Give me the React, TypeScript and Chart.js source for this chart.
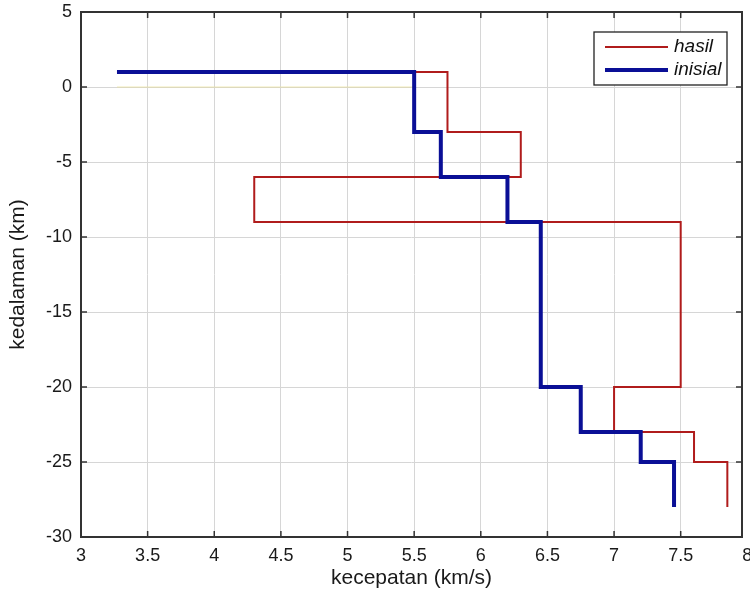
import React, { useEffect, useRef } from "react";
import { Chart, registerables } from "chart.js";

Chart.register(...registerables);

const xTicks = [3, 3.5, 4, 4.5, 5, 5.5, 6, 6.5, 7, 7.5, 8];
const yTicks = [5, 0, -5, -10, -15, -20, -25, -30];

const hasilVel = [3.27, 5.75, 5.75, 6.3, 6.3, 4.3, 4.3, 7.5, 7.5, 7.0, 7.0, 7.6, 7.6, 7.85, 7.85];
const hasilDepth = [1, 1, -3, -3, -6, -6, -9, -9, -20, -20, -23, -23, -25, -25, -28];

const inisialVel = [3.27, 5.5, 5.5, 5.7, 5.7, 6.2, 6.2, 6.45, 6.45, 6.75, 6.75, 7.2, 7.2, 7.45, 7.45];
const inisialDepth = [1, 1, -3, -3, -6, -6, -9, -9, -20, -20, -23, -23, -25, -25, -28];

const faintVel = [3.27, 5.5];
const faintDepth = [0, 0];

const X_MIN = 3;
const X_MAX = 7.96;
const Y_MIN = -30;
const Y_MAX = 5;

const FONT = "'Liberation Sans', Arial, Helvetica, sans-serif";

const toPoints = (xs: number[], ys: number[]) => xs.map((v, i) => ({ x: v, y: ys[i] }));

const framePlugin = {
  id: "matlabFrame",
  afterDatasetsDraw(chart: any) {
    const { ctx, chartArea, scales } = chart;
    const { left, right, top, bottom } = chartArea;
    const xs = scales.x;
    const ys = scales.y;
    ctx.save();
    ctx.strokeStyle = "#333";
    ctx.lineWidth = 1.5;
    const seg = (a: number, b: number, c: number, d: number) => {
      ctx.beginPath();
      ctx.moveTo(a, b);
      ctx.lineTo(c, d);
      ctx.stroke();
    };
    xs.ticks.forEach((t: any) => {
      if (t.value > xs.max + 1e-9 || t.value < xs.min - 1e-9) return;
      const px = xs.getPixelForValue(t.value);
      seg(px, bottom, px, bottom - 6);
      seg(px, top, px, top + 6);
    });
    ys.ticks.forEach((t: any) => {
      const py = ys.getPixelForValue(t.value);
      seg(left, py, left + 6, py);
      seg(right, py, right - 6, py);
    });
    ctx.lineWidth = 2;
    ctx.strokeRect(left, top, right - left, bottom - top);

    // legend
    const items = chart.data.datasets.filter((d: any) => d.showInLegend);
    const bw = 133;
    const bh = 53;
    const x0 = right - 148;
    const y0 = top + 20;
    ctx.fillStyle = "#fff";
    ctx.fillRect(x0, y0, bw, bh);
    ctx.lineWidth = 1.3;
    ctx.strokeStyle = "#222";
    ctx.strokeRect(x0, y0, bw, bh);
    items.forEach((d: any, i: number) => {
      const yy = y0 + 15 + i * 23;
      ctx.strokeStyle = d.borderColor;
      ctx.lineWidth = d.borderWidth;
      seg(x0 + 11, yy, x0 + 74, yy);
      ctx.fillStyle = "#111";
      ctx.font = `italic 19px ${FONT}`;
      ctx.textBaseline = "middle";
      ctx.textAlign = "left";
      ctx.fillText(d.label, x0 + 80, yy);
    });
    ctx.restore();
  },
};

export default function App() {
  const ref = useRef<HTMLCanvasElement | null>(null);

  useEffect(() => {
    if (!ref.current) return;
    const chart = new Chart(ref.current, {
      type: "line",
      data: {
        datasets: [
          {
            label: "hasil",
            data: toPoints(hasilVel, hasilDepth),
            borderColor: "#b01c1c",
            borderWidth: 2,
            pointRadius: 0,
            fill: false,
            tension: 0,
            order: 2,
            showInLegend: true,
          } as any,
          {
            label: "inisial",
            data: toPoints(inisialVel, inisialDepth),
            borderColor: "#0a0f96",
            borderWidth: 4,
            pointRadius: 0,
            fill: false,
            tension: 0,
            order: 1,
            showInLegend: true,
          } as any,
          {
            label: "",
            data: toPoints(faintVel, faintDepth),
            borderColor: "rgba(235,225,150,0.7)",
            borderWidth: 1,
            pointRadius: 0,
            fill: false,
            order: 3,
            showInLegend: false,
          } as any,
        ],
      },
      options: {
        animation: false,
        responsive: false,
        maintainAspectRatio: false,
        layout: { padding: { top: 12, right: 8, left: 0, bottom: 0 } },
        plugins: {
          legend: { display: false },
          tooltip: { enabled: false },
        },
        scales: {
          x: {
            type: "linear",
            min: X_MIN,
            max: X_MAX,
            afterBuildTicks: (s: any) => {
              s.ticks = xTicks.map((v) => ({ value: v }));
            },
            afterFit: (s: any) => {
              s.height = 60;
              s.paddingLeft = 0;
              s.paddingRight = 0;
            },
            grid: {
              color: (c: any) =>
                c.tick && c.tick.value > X_MAX ? "rgba(0,0,0,0)" : "#d6d6d6",
              lineWidth: 1,
              drawTicks: false,
            },
            border: { display: false },
            ticks: {
              padding: 8,
              color: "#1a1a1a",
              font: { family: FONT, size: 18 },
              maxRotation: 0,
              autoSkip: false,
              callback: (v: any) => String(v),
            },
            title: {
              display: true,
              text: "kecepatan (km/s)",
              color: "#1a1a1a",
              font: { family: FONT, size: 21 },
              padding: { top: 0, bottom: 6 },
            },
          },
          y: {
            type: "linear",
            min: Y_MIN,
            max: Y_MAX,
            afterBuildTicks: (s: any) => {
              s.ticks = yTicks.map((v) => ({ value: v }));
            },
            afterFit: (s: any) => {
              s.width = 81;
              s.paddingTop = 0;
              s.paddingBottom = 0;
            },
            grid: { color: "#d6d6d6", lineWidth: 1, drawTicks: false },
            border: { display: false },
            ticks: {
              padding: 9,
              color: "#1a1a1a",
              font: { family: FONT, size: 18 },
              autoSkip: false,
              callback: (v: any) => String(v),
            },
            title: {
              display: true,
              text: "kedalaman (km)",
              color: "#1a1a1a",
              font: { family: FONT, size: 21 },
              padding: { top: 6, bottom: 0 },
            },
          },
        },
      },
      plugins: [framePlugin],
    });
    return () => chart.destroy();
  }, []);

  return (
    <div
      style={{
        position: "fixed",
        left: 0,
        top: 0,
        width: 750,
        height: 597,
        background: "#fff",
        overflow: "hidden",
      }}
    >
      <canvas ref={ref} width={750} height={597} style={{ width: 750, height: 597, display: "block" }} />
    </div>
  );
}
